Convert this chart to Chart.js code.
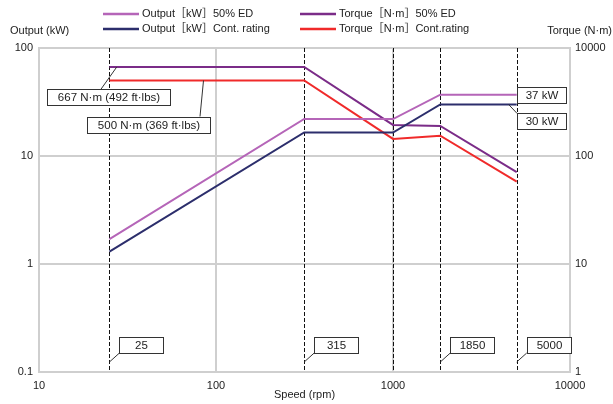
<!DOCTYPE html>
<html>
<head>
<meta charset="utf-8">
<script src="https://cdn.jsdelivr.net/npm/chart.js@4.4.1/dist/chart.umd.min.js"></script>
<style>
    html, body { margin: 0; padding: 0; background: #fff; }
    #wrap { width: 613px; height: 404px; }
</style>
</head>
<body>
<div id="wrap"><canvas id="speedChart" width="613" height="404"></canvas></div>
<script>
// ========================================
// Data
// ========================================

const speedPoints = [25, 315, 1000, 1850, 5000];
const outputED = [1.7, 22, 22, 37, 37];
const outputCont = [1.3, 16.5, 16.5, 30, 30];
const torqueED = [667, 667, 194, 190, 71];
const torqueCont = [500, 500, 144, 154, 58];

const seriesLabels = [
    'Output［kW］50% ED',
    'Output［kW］Cont. rating',
    'Torque［N·m］50% ED',
    'Torque［N·m］Cont.rating'
];
const seriesColors = ['#b565b8', '#2c2e6c', '#7b2c88', '#f02a2a'];

const dashedSpeeds = [25, 315, 1000, 1850, 5000];
const speedBoxLabels = ['25', '315', '1850', '5000'];
const speedBoxValues = [25, 315, 1850, 5000];

const xTicks = [10, 100, 1000, 10000];
const leftTicks = [0.1, 1, 10, 100];
const rightTicks = [1, 10, 100, 1000];
const rightTickLabels = ['1', '10', '100', '10000'];

const FONT = '"Liberation Sans", Arial, "Noto Sans CJK JP", sans-serif';
const TEXT = '#222';
const GRID = '#cfcfcf';

// callouts: anchor in data units, box centre offset / size in px
const callouts = [
    { text: '667 N·m (492 ft·lbs)', axis: 'y2', at: [27.5, 667], box: [-8.5, 30.5, 123, 16], lead: [-7.5, -8] },
    { text: '500 N·m (369 ft·lbs)', axis: 'y2', at: [85, 500], box: [-55, 44, 123, 16], lead: [51.5, -8] },
    { text: '37 kW', axis: 'y', at: [5000, 37], box: [25, 0, 49, 16], lead: null },
    { text: '30 kW', axis: 'y', at: [4500, 30], box: [33, 17, 49, 16], lead: [-24.5, -8] }
];
speedBoxValues.forEach(function(v, i) {
    callouts.push({ text: speedBoxLabels[i], axis: 'y', at: [v, 0.1], box: [32, -27, 44, 16], lead: [-22, 8], tip: [0, -10] });
});

function toPoints(ys) {
    return speedPoints.map((x, i) => ({ x: x, y: ys[i] }));
}

// ========================================
// Plugins
// ========================================

const dashedLines = {
    id: 'dashedLines',
    beforeDatasetsDraw(chart) {
        const ctx = chart.ctx;
        const area = chart.chartArea;
        const xs = chart.scales.x;
        ctx.save();
        ctx.strokeStyle = '#111';
        ctx.lineWidth = 1;
        ctx.setLineDash([4, 2]);
        dashedSpeeds.forEach(v => {
            const px = Math.round(xs.getPixelForValue(v)) + 0.5;
            ctx.beginPath();
            ctx.moveTo(px, area.top);
            ctx.lineTo(px, area.bottom);
            ctx.stroke();
        });
        ctx.restore();
    }
};

const extras = {
    id: 'extras',
    afterDraw(chart) {
        const ctx = chart.ctx;
        ctx.save();
        ctx.font = '11px ' + FONT;
        ctx.fillStyle = TEXT;
        ctx.textBaseline = 'middle';

        // axis titles
        ctx.textAlign = 'left';
        ctx.fillText('Output (kW)', 10, 31);
        ctx.textAlign = 'right';
        ctx.fillText('Torque (N·m)', 612, 31);

        // legend (two columns)
        const order = [0, 2, 1, 3];
        const colX = [103, 300];
        const rowY = [14, 29];
        ctx.textAlign = 'left';
        order.forEach((di, k) => {
            const ds = chart.data.datasets[di];
            const x = colX[k % 2];
            const y = rowY[Math.floor(k / 2)];
            ctx.strokeStyle = ds.borderColor;
            ctx.lineWidth = 2.5;
            ctx.beginPath();
            ctx.moveTo(x, y);
            ctx.lineTo(x + 36, y);
            ctx.stroke();
            ctx.fillStyle = TEXT;
            ctx.fillText(ds.label, x + 39, y);
        });

        // callouts
        ctx.font = '11.5px ' + FONT;
        ctx.textAlign = 'center';
        callouts.forEach(c => {
            const ax = chart.scales.x.getPixelForValue(c.at[0]);
            const ay = chart.scales[c.axis].getPixelForValue(c.at[1]);
            const cx = ax + c.box[0];
            const cy = ay + c.box[1];
            const w = c.box[2], h = c.box[3];
            ctx.strokeStyle = '#333';
            ctx.lineWidth = 1;
            if (c.lead) {
                const tip = c.tip || [0, 0];
                ctx.beginPath();
                ctx.moveTo(cx + c.lead[0], cy + c.lead[1]);
                ctx.lineTo(ax + tip[0], ay + tip[1]);
                ctx.stroke();
            }
            const bx = Math.round(cx - w / 2) + 0.5;
            const by = Math.round(cy - h / 2) + 0.5;
            ctx.fillStyle = '#fff';
            ctx.fillRect(bx, by, w, h);
            ctx.strokeRect(bx, by, w, h);
            ctx.fillStyle = TEXT;
            ctx.fillText(c.text, bx + w / 2, by + h / 2 + 0.5);
        });
        ctx.restore();
    }
};

// ========================================
// Chart
// ========================================

const datasets = [
    { label: seriesLabels[0], data: toPoints(outputED), yAxisID: 'y', borderColor: seriesColors[0] },
    { label: seriesLabels[1], data: toPoints(outputCont), yAxisID: 'y', borderColor: seriesColors[1] },
    { label: seriesLabels[2], data: toPoints(torqueED), yAxisID: 'y2', borderColor: seriesColors[2] },
    { label: seriesLabels[3], data: toPoints(torqueCont), yAxisID: 'y2', borderColor: seriesColors[3] }
].map(d => Object.assign(d, { borderWidth: 2, pointRadius: 0, tension: 0, fill: false }));

function fixTicks(values) {
    return function(scale) {
        scale.ticks = values.map(v => ({ value: v }));
    };
}

new Chart(document.getElementById('speedChart'), {
    type: 'line',
    data: { datasets: datasets },
    plugins: [dashedLines, extras],
    options: {
        responsive: false,
        animation: false,
        devicePixelRatio: 1,
        layout: { padding: { top: 48, left: 0, right: 0, bottom: 0 } },
        plugins: {
            legend: { display: false },
            tooltip: { enabled: false }
        },
        scales: {
            x: {
                type: 'logarithmic',
                min: 10,
                max: 10000,
                afterBuildTicks: fixTicks(xTicks),
                afterFit: function(scale) { scale.height = 32; },
                grid: { color: GRID, lineWidth: 2, drawTicks: false },
                border: { color: GRID, width: 2 },
                ticks: {
                    color: TEXT,
                    font: { family: FONT, size: 11 },
                    padding: 7,
                    maxRotation: 0,
                    autoSkip: false,
                    callback: v => String(v)
                },
                title: {
                    display: true,
                    text: 'Speed (rpm)',
                    color: TEXT,
                    font: { family: FONT, size: 11 },
                    padding: { top: 0, bottom: 2 }
                }
            },
            y: {
                type: 'logarithmic',
                position: 'left',
                min: 0.1,
                max: 100,
                afterBuildTicks: fixTicks(leftTicks),
                afterFit: function(scale) { scale.width = 39; },
                grid: { color: GRID, lineWidth: 2, drawTicks: false },
                border: { color: GRID, width: 2 },
                ticks: {
                    color: TEXT,
                    font: { family: FONT, size: 11 },
                    padding: 6,
                    autoSkip: false,
                    callback: v => String(v)
                }
            },
            y2: {
                type: 'logarithmic',
                position: 'right',
                min: 1,
                max: 1000,
                afterBuildTicks: fixTicks(rightTicks),
                afterFit: function(scale) { scale.width = 43; },
                grid: { display: false, drawTicks: false },
                border: { color: GRID, width: 2 },
                ticks: {
                    color: TEXT,
                    font: { family: FONT, size: 11 },
                    padding: 5,
                    autoSkip: false,
                    callback: function(v) {
                        const i = rightTicks.indexOf(v);
                        return i >= 0 ? rightTickLabels[i] : '';
                    }
                }
            }
        }
    }
});
</script>
</body>
</html>
